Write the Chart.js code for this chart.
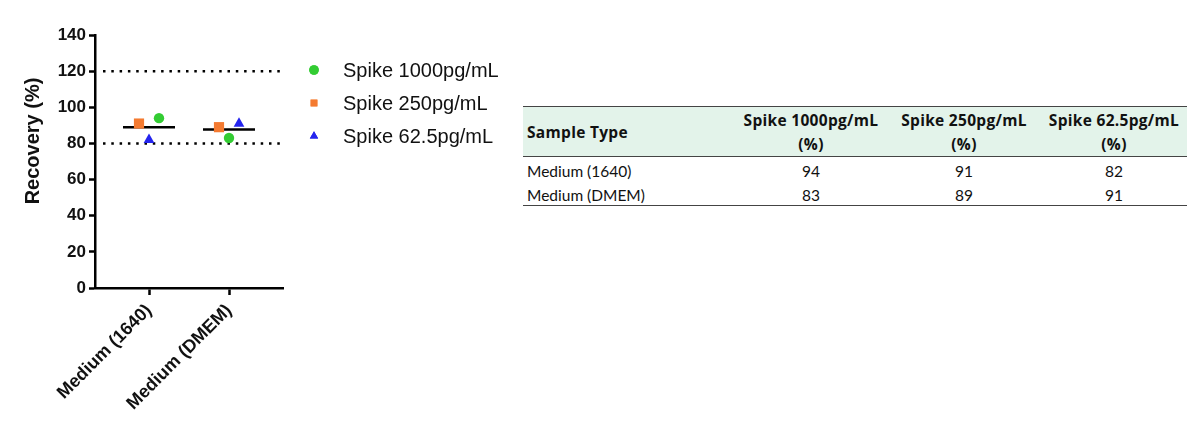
<!DOCTYPE html>
<html>
<head>
<meta charset="utf-8">
<script src="https://cdn.jsdelivr.net/npm/chart.js@4.4.1/dist/chart.umd.min.js"></script>
<style>
  body { margin: 0; background: #fff; width: 1200px; height: 432px; overflow: hidden; position: relative; }
  #box { position: absolute; left: 0; top: 0; width: 520px; height: 432px; }
  table { position: absolute; left: 523px; top: 106px; width: 664px; border-collapse: collapse; table-layout: fixed;
          font-family: Lato, "Open Sans", sans-serif; font-size: 15.5px; color: #111; }
  th, td { padding: 0 4px; }
  thead tr { background: #e3f3ea; border-top: 1.5px solid #444; border-bottom: 1.5px solid #444; }
  th { font-family: "Open Sans", Lato, sans-serif; font-size: 15.5px; letter-spacing: 0.3px; font-weight: bold;
       line-height: 24px; padding-top: 1px; padding-bottom: 0; }
  th.first { text-align: left; }
  td { height: 20px; padding-top: 4px; text-align: center; }
  td.first { text-align: left; }
  tbody tr:last-child { border-bottom: 1.5px solid #444; }
</style>
</head>
<body>
<div id="box"><canvas id="scatter-chart"></canvas></div>
<table id="recovery-table">
  <colgroup><col style="width:212px"><col style="width:152px"><col style="width:154px"><col style="width:146px"></colgroup>
</table>
<script>
// 샘플 / 시리즈 데이터
var categories = ['Medium (1640)', 'Medium (DMEM)'];
var seriesNames = ['Spike 1000pg/mL', 'Spike 250pg/mL', 'Spike 62.5pg/mL'];
var spike1000 = [94, 83];
var spike250 = [91, 89];
var spike625 = [82, 91];
var yTicks = [0, 20, 40, 60, 80, 100, 120, 140];
var limitLines = [80, 120];
var yTitle = 'Recovery (%)';

// 겹침 방지용 가로 위치 이동 (카테고리 단위)
var xJitter = [[0.125, 0], [-0.125, -0.125], [0, 0.125]];
var colors = ['#33cc33', '#f47a30', '#2424ee'];
var shapes = ['circle', 'rect', 'triangle'];
var radii = [5.2, 7.2, 6.2];

var seriesValues = [spike1000, spike250, spike625];

// 표 만들기
var table = document.getElementById('recovery-table');
var html = '<thead><tr><th class="first">Sample Type</th>';
seriesNames.forEach(function (n) { html += '<th>' + n + '<br>(%)</th>'; });
html += '</tr></thead><tbody>';
categories.forEach(function (c, i) {
    html += '<tr><td class="first">' + c + '</td>';
    seriesValues.forEach(function (v) { html += '<td>' + v[i] + '</td>'; });
    html += '</tr>';
});
table.insertAdjacentHTML('beforeend', html + '</tbody>');

// 차트 데이터셋
var datasets = seriesValues.map(function (vals, s) {
    return {
        label: seriesNames[s],
        type: 'scatter',
        data: vals.map(function (v, i) { return { x: i + 1 + xJitter[s][i], y: v }; }),
        backgroundColor: colors[s],
        borderWidth: 0,
        pointStyle: shapes[s],
        pointRadius: radii[s],
        order: 0,
        isSeries: true
    };
});

// 평균선
var meanData = [];
categories.forEach(function (c, i) {
    var sum = 0;
    seriesValues.forEach(function (v) { sum += v[i]; });
    var m = sum / seriesValues.length;
    meanData.push({ x: i + 1 - 0.325, y: m }, { x: i + 1 + 0.325, y: m }, { x: i + 1.5, y: null });
});
datasets.push({
    label: 'mean', type: 'line', data: meanData, borderColor: '#000', borderWidth: 2.5,
    pointRadius: 0, spanGaps: false, order: 1
});

limitLines.forEach(function (v) {
    datasets.push({
        label: 'limit ' + v, type: 'line', data: [{ x: 0.425, y: v }, { x: 2.64, y: v }],
        borderColor: '#000', borderWidth: 2.5, borderDash: [2.5, 5.8], borderCapStyle: 'butt',
        pointRadius: 0, order: 2
    });
});

// 오른쪽 범례 + 세로축 제목 그리기
var sideLegend = {
    id: 'sideLegend',
    afterDraw: function (chart) {
        var ctx = chart.ctx, area = chart.chartArea;
        ctx.save();
        ctx.font = '20px Arial, "Liberation Sans", sans-serif';
        ctx.textBaseline = 'middle';
        chart.data.datasets.filter(function (d) { return d.isSeries; }).forEach(function (d, i) {
            var y = area.top + 35 + i * 33;
            ctx.fillStyle = d.backgroundColor;
            Chart.helpers.drawPoint(ctx, { pointStyle: d.pointStyle, radius: 4.8, rotation: 0, borderWidth: 0 }, area.right + 31, y);
            ctx.fill();
            ctx.fillStyle = '#111';
            ctx.fillText(d.label, area.right + 60, y + 1);
        });
        // 세로축 제목 (Prism 처럼 위쪽으로 치우침)
        ctx.translate(33, area.top + 106);
        ctx.rotate(-Math.PI / 2);
        ctx.textAlign = 'center';
        ctx.font = 'bold 20px Arial, "Liberation Sans", sans-serif';
        ctx.fillText(yTitle, 0, 0);
        ctx.restore();
    }
};

var boldFont = function (size) { return { family: 'Arial, "Liberation Sans", sans-serif', size: size, weight: 'bold' }; };

var ctx = document.getElementById('scatter-chart').getContext('2d');
var myChart = new Chart(ctx, {
    type: 'scatter',
    data: { datasets: datasets },
    plugins: [sideLegend],
    options: {
        responsive: true,
        maintainAspectRatio: false,
        animation: false,
        layout: { padding: { top: 35, left: 20, right: 237, bottom: 0 } },
        plugins: { legend: { display: false }, tooltip: { enabled: false } },
        scales: {
            x: {
                type: 'linear', min: 0.325, max: 2.675,
                afterBuildTicks: function (scale) {
                    scale.ticks = categories.map(function (c, i) { return { value: i + 1 }; });
                },
                afterFit: function (scale) { scale.height = 144; },
                ticks: {
                    callback: function (v) { return categories[v - 1]; },
                    maxRotation: 45, minRotation: 45, autoSkip: false,
                    color: '#111', font: boldFont(18), padding: 5
                },
                grid: { drawOnChartArea: false, drawTicks: true, tickLength: 7, tickWidth: 2.5, tickColor: '#000' },
                border: { color: '#000', width: 2.5 }
            },
            y: {
                min: 0, max: 140,
                afterBuildTicks: function (scale) {
                    scale.ticks = yTicks.map(function (v) { return { value: v }; });
                },
                afterFit: function (scale) { scale.width = 75; },
                ticks: { color: '#111', font: boldFont(17), padding: 3 },
                grid: { drawOnChartArea: false, drawTicks: true, tickLength: 6, tickWidth: 2.5, tickColor: '#000' },
                border: { color: '#000', width: 2.5 }
            }
        }
    }
});
</script>
</body>
</html>
